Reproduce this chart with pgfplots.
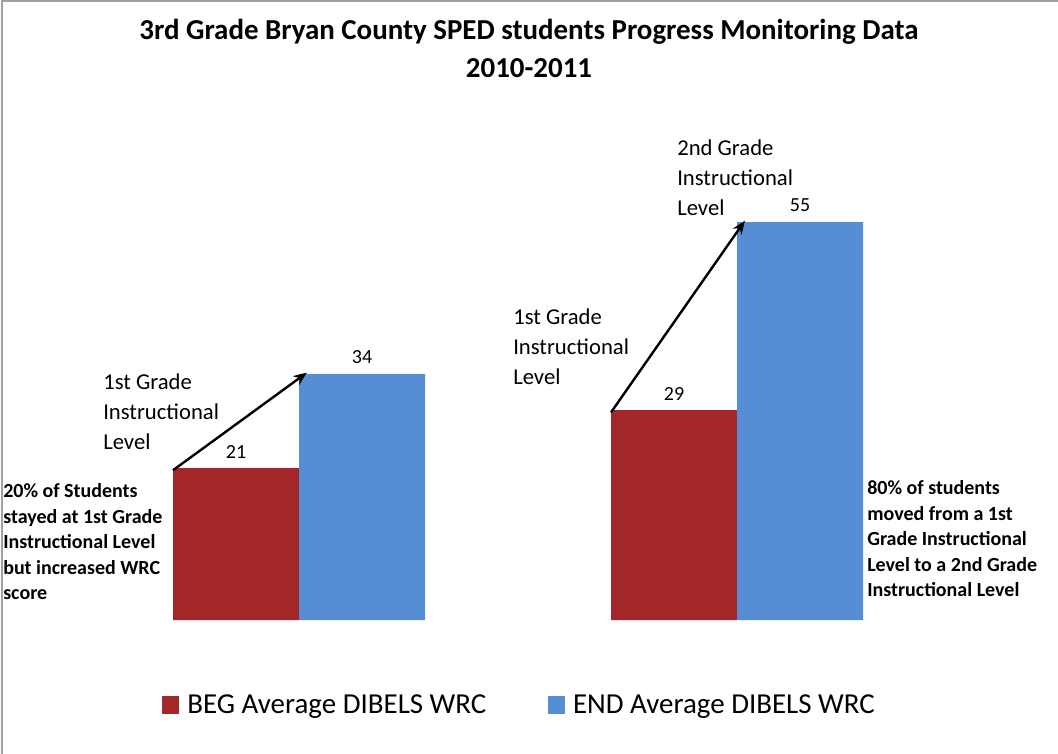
\documentclass[border=0pt]{standalone}
\usepackage{pgfplots}
\pgfplotsset{compat=1.18}
\usepackage{fontspec}
\setmainfont{Carlito}
\usetikzlibrary{arrows.meta}
\definecolor{begred}{RGB}{163,39,41}
\definecolor{endblue}{RGB}{85,142,213}
\definecolor{framegray}{RGB}{160,160,160}
\newcommand{\mlines}[5]{%
  \foreach \t [count=\i from 0] in {#5} {%
    \node[anchor=base west, inner sep=0pt, font=#4] at (#1, {754-#2-\i*#3}) {\t};}}
\begin{document}
\begin{tikzpicture}
\begin{scope}[x=0.75pt,y=0.75pt]
\path[use as bounding box] (0,0) rectangle (1058,754);
\draw[framegray, line width=1.2pt] (2,0) -- (2,753) -- (1058,753);
\end{scope}
\begin{axis}[
  at={(60pt,100.5pt)}, anchor=south west,
  scale only axis, width=657pt, height=325.5pt,
  xmin=-0.5, xmax=1.5, ymin=0, ymax=60,
  hide axis, clip=false,
  /pgf/number format/assume math mode=true,
  ybar=0pt, bar width=94.5pt,
  nodes near coords,
  nodes near coords style={font=\fontsize{15}{18}\selectfont, text=black, yshift=4pt},
  legend columns=2,
  legend style={draw=none, fill=none, at={(0.502,-0.196)}, anchor=center,
    font=\fontsize{21.7}{25}\selectfont,
    /tikz/every even column/.append style={column sep=44pt}},
  legend image code/.code={\path[#1, draw=none] (0pt,-6.5pt) rectangle (13pt,6.5pt); \path (17pt,0pt);},
]
\addplot[fill=begred, draw=none] coordinates {(0,21) (1,29)};
\addplot[fill=endblue, draw=none] coordinates {(0,34) (1,55)};
\legend{BEG Average DIBELS WRC, END Average DIBELS WRC}
\draw[-{Stealth[length=10pt,width=8pt]}, line width=1.8pt] (axis cs:-0.2877,20.7) -- (axis cs:0.018,34.2);
\draw[-{Stealth[length=10pt,width=8pt]}, line width=1.8pt] (axis cs:0.7123,28.7) -- (axis cs:1.018,55.2);
\end{axis}
\begin{scope}[x=0.75pt,y=0.75pt]
\node[anchor=base, inner sep=0pt, font=\bfseries\fontsize{21.7}{25}\selectfont] at (529,{754-40}) {3rd Grade Bryan County SPED students Progress Monitoring Data};
\node[anchor=base, inner sep=0pt, font=\bfseries\fontsize{21.7}{25}\selectfont] at (529,{754-78}) {2010-2011};
\mlines{103}{390}{30}{\fontsize{17}{21}\selectfont}{1st Grade,Instructional,Level}
\mlines{513}{325}{30}{\fontsize{17}{21}\selectfont}{1st Grade,Instructional,Level}
\mlines{677}{156}{30}{\fontsize{17}{21}\selectfont}{2nd Grade,Instructional,Level}
\mlines{3}{498}{25.5}{\bfseries\fontsize{15}{17}\selectfont}{20\% of Students,stayed at 1st Grade,Instructional Level,but increased WRC,score}
\mlines{867}{495}{25.5}{\bfseries\fontsize{15}{17}\selectfont}{80\% of students,moved from a 1st,Grade Instructional,Level to a 2nd Grade,Instructional Level}
\end{scope}
\end{tikzpicture}
\end{document}
